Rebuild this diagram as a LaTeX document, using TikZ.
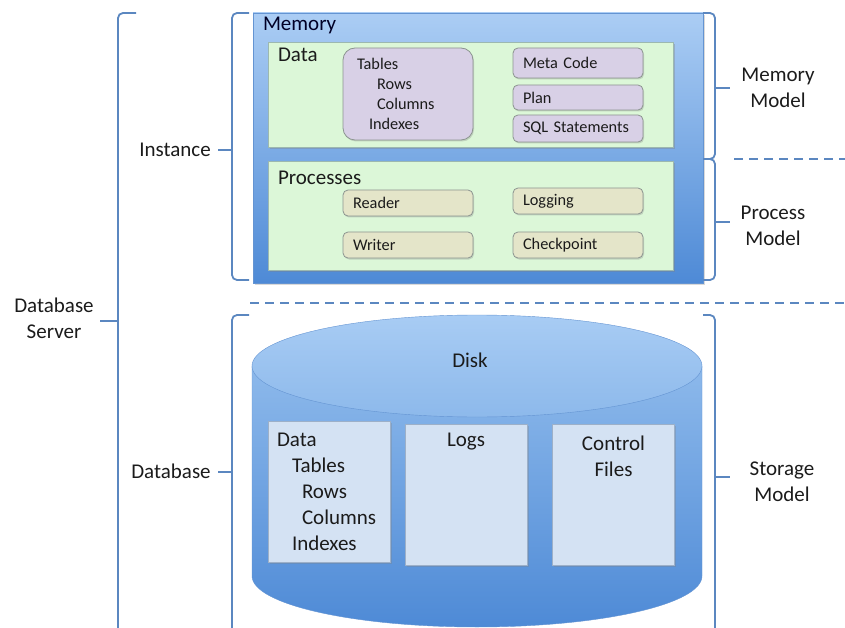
\documentclass[tikz,border=0pt]{standalone}
\usepackage{fontspec}
\setmainfont{Carlito}
\usepackage{tikz}
\usetikzlibrary{positioning,shadows}
\definecolor{brkblue}{HTML}{5B87C0}
\definecolor{txtcol}{HTML}{1B1B1B}
\definecolor{memtop}{HTML}{ABCDF4}
\definecolor{membot}{HTML}{4E8AD6}
\definecolor{memedge}{HTML}{6494D2}
\definecolor{disktop}{HTML}{A8CCF4}
\definecolor{diskmid}{HTML}{8DB9EB}
\definecolor{areagreen}{HTML}{DCF7D8}
\definecolor{areaedge}{HTML}{9CB8B0}
\definecolor{lavfill}{HTML}{D8D0E6}
\definecolor{tanfill}{HTML}{E4E5C9}
\definecolor{smalledge}{HTML}{8C9490}
\definecolor{diskfill}{HTML}{D4E2F3}
\definecolor{diskedge}{HTML}{9DB0C8}

\begin{document}
\begin{tikzpicture}[x=1pt,y=-1pt,
    lbl/.style={font=\fontsize{21}{26}\selectfont,align=center,text=txtcol,inner sep=0pt},
    brk/.style={draw=brkblue,line width=1.8pt,rounded corners=5pt},
    sep/.style={draw=brkblue,line width=2pt,dash pattern=on 9pt off 6pt},
    area/.style={draw=areaedge,fill=areagreen,minimum width=405pt,
      drop shadow={shadow xshift=1.5pt,shadow yshift=-2pt,opacity=0.35}},
    smallbox/.style={draw=smalledge,rounded corners=5pt,line width=0.8pt,align=left,
      font=\fontsize{16.3}{20}\selectfont,text=txtcol,minimum width=130pt,
      text width=110pt,inner xsep=10pt,inner ysep=0pt,
      drop shadow={shadow xshift=1pt,shadow yshift=-1.5pt,opacity=0.3}},
    diskbox/.style={draw=diskedge,fill=diskfill,minimum width=122pt,minimum height=141pt,
      drop shadow={shadow xshift=1.5pt,shadow yshift=-1.5pt,opacity=0.3}}]
  \useasboundingbox (0,0) rectangle (845,628);

  % instance: memory with data and processes
  \node[draw=memedge,top color=memtop,bottom color=membot,minimum width=450pt,minimum height=270pt,
    drop shadow={shadow xshift=2pt,shadow yshift=-2pt,opacity=0.3}] (mem) at (478,148) {};
  \node[lbl,anchor=north west,text=black!85!blue] (memtxt) at ([xshift=10pt,yshift=-4pt]mem.north west) {Memory};
  \node[area,minimum height=105pt] (data) at (470.5,94.5) {};
  \node[lbl,anchor=north west] (datatxt) at ([xshift=10pt,yshift=-6pt]data.north west) {Data};
  \node[area,minimum height=109pt] (proc) at (470.5,215.5) {};
  \node[lbl,anchor=north west] (proctxt) at ([xshift=10pt,yshift=-10pt]proc.north west) {Processes};

  \node[smallbox,fill=lavfill,minimum height=92pt,rounded corners=12pt,text width=102pt,inner xsep=14pt]
    (tables) at (408,94) {Tables\\\hspace*{20pt}Rows\\\hspace*{20pt}Columns\\\hspace*{12pt}Indexes};
  \node[smallbox,fill=lavfill,minimum height=30pt] (meta) at (578,63) {Meta Code};
  \node[smallbox,fill=lavfill,minimum height=25pt] (plan) at (578,97.5) {Plan};
  \node[smallbox,fill=lavfill,minimum height=27pt] (sql) at (578,128.5) {SQL Statements};

  \node[smallbox,fill=tanfill,minimum height=26pt] (reader) at (408,203) {Reader};
  \node[smallbox,fill=tanfill,minimum height=26pt] (logging) at (578,201) {Logging};
  \node[smallbox,fill=tanfill,minimum height=26pt] (writer) at (408,245) {Writer};
  \node[smallbox,fill=tanfill,minimum height=26pt] (chkpt) at (578,245) {Checkpoint};

  % database: the disk
  \shade[draw=memedge,top color=diskmid,bottom color=membot]
    (252,366) -- (252,576) arc[start angle=180,end angle=0,x radius=225,y radius=51] -- (702,366) -- cycle;
  \shade[draw=memedge,top color=disktop,bottom color=diskmid] (477,366) ellipse (225 and 51);
  \node[lbl] (disktxt) at (470,360) {Disk};

  \node[diskbox] (ddata) at (329,492) {};
  \node[lbl,align=left,anchor=north west] (ddatatxt) at ([xshift=9pt,yshift=-12pt]ddata.north west)
    {Data\\\hspace*{15pt}Tables\\\hspace*{25pt}Rows\\\hspace*{25pt}Columns\\\hspace*{15pt}Indexes};
  \node[diskbox] (logs) at (466,495) {};
  \node[lbl,below=9pt of logs.north] (logstxt) {Logs};
  \node[diskbox] (ctrl) at (613.5,495) {};
  \node[lbl,below=11pt of ctrl.north] (ctrltxt) {Control\\Files};

  % brackets on the left
  \node[lbl] (dbserver) at (54,318) {Database\\Server};
  \draw[brk] (136,13) -- (118,13) -- (118,640);
  \draw[brk] (100,321) -- (118,321);
  \node[lbl] (inst) at (175,150) {Instance};
  \draw[brk] (249,13) -- (232,13) -- (232,280) -- (249,280);
  \draw[brk] (218,150) -- (232,150);
  \node[lbl] (dbase) at (171,471) {Database};
  \draw[brk] (249,315) -- (232,315) -- (232,640);
  \draw[brk] (218,472) -- (232,472);

  % brackets on the right
  \node[lbl] (memmodel) at (778,88) {Memory\\Model};
  \draw[brk] (703,13) -- (715,13) -- (715,159) -- (703,159);
  \draw[brk] (715,88) -- (730,88);
  \node[lbl] (procmodel) at (773,226) {Process\\Model};
  \draw[brk] (703,159) -- (715,159) -- (715,280) -- (703,280);
  \draw[brk] (715,222) -- (730,222);
  \node[lbl] (stormodel) at (782,482) {Storage\\Model};
  \draw[brk] (703,315) -- (715,315) -- (715,640);
  \draw[brk] (715,477) -- (730,477);

  % model borders
  \draw[sep] (734,159) -- (845,159);
  \draw[sep] (250,303) -- (845,303);
\end{tikzpicture}
\end{document}
